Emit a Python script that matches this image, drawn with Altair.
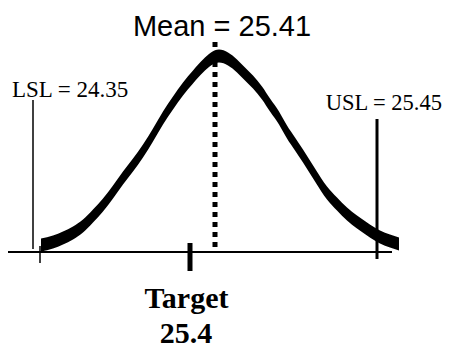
import altair as alt
import pandas as pd

# Curve (x: position relative to the mean line, y: height above baseline)
curve_x = [-174, -162, -152, -142, -132, -122, -112, -102, -92, -82, -72, -62, -52, -42, -32, -22, -12, -4,
           4, 13, 22, 30, 38, 47, 55, 64, 72, 80, 88, 100, 112, 122, 132, 142, 152, 165, 175, 184]
curve_y = [7, 10, 14, 19, 26, 36, 47, 60, 74, 87, 101, 117, 134, 149, 163, 175, 186, 193,
           196, 193, 186, 178, 170, 159, 147, 134, 120, 108, 96, 77, 59, 48, 38, 30, 23, 15, 11, 8]

# Reference lines
lsl_x, lsl_top, lsl_bottom = -182, 152, 3
usl_x, usl_top, usl_bottom = 162, 133, -7
mean_x, mean_top = 0, 210
target_x, target_top, target_bottom = -25, 9, -19
lsl_tick_x, lsl_tick_top, lsl_tick_bottom = -175, 6, -11
axis_left, axis_right = -207, 177

# Labels
mean_label = "Mean = 25.41"
lsl_label = "LSL = 24.35"
usl_label = "USL = 25.45"
target_label = "Target"
target_value = "25.4"

xs = alt.Scale(domain=[-207, 228])
ys = alt.Scale(domain=[-93, 244])


def X(f):
    return alt.X(f, scale=xs, axis=None)


def Y(f):
    return alt.Y(f, scale=ys, axis=None)


curve = pd.DataFrame({"x": curve_x, "y": curve_y})

band = alt.Chart(curve).transform_calculate(
    lo="datum.y - 6.5", hi="datum.y + 6.5"
).mark_area(color="black", interpolate="monotone").encode(
    x=X("x:Q"), y=Y("hi:Q"), y2="lo:Q"
)

axis_df = pd.DataFrame({"x": [axis_left], "x2": [axis_right], "y": [0]})
axis_line = alt.Chart(axis_df).mark_rule(color="black", strokeWidth=2).encode(
    x=X("x:Q"), x2="x2:Q", y=Y("y:Q")
)


def vrule(x, top, bottom, width, dash=None):
    df = pd.DataFrame({"x": [x], "y": [top], "y2": [bottom]})
    kw = dict(color="black", strokeWidth=width, strokeCap="butt")
    if dash is not None:
        kw["strokeDash"] = dash
    return alt.Chart(df).mark_rule(**kw).encode(x=X("x:Q"), y=Y("y:Q"), y2="y2:Q")


lsl_line = vrule(lsl_x, lsl_top, lsl_bottom, 1.5)
usl_line = vrule(usl_x, usl_top, usl_bottom, 3)
mean_line = vrule(mean_x, mean_top, 0, 5, [5, 5])
target_tick = vrule(target_x, target_top, target_bottom, 5)
lsl_tick = vrule(lsl_tick_x, lsl_tick_top, lsl_tick_bottom, 1.5)


def label(text, x, y, font, size, align, weight="normal"):
    df = pd.DataFrame({"x": [x], "y": [y], "t": [text]})
    return alt.Chart(df).mark_text(
        font=font, fontSize=size, align=align, baseline="alphabetic",
        fontWeight=weight, color="black"
    ).encode(x=X("x:Q"), y=Y("y:Q"), text="t:N")


texts = [
    label(mean_label, 7, 216, "Liberation Sans", 29, "center"),
    label(lsl_label, -203, 155, "Liberation Serif", 23, "left"),
    label(usl_label, 227, 142, "Liberation Serif", 22.5, "right"),
    label(target_label, -28.5, -56, "Liberation Serif", 30, "center", "bold"),
    label(target_value, -29, -91, "Liberation Serif", 30, "center", "bold"),
]

chart = alt.layer(
    axis_line, lsl_line, usl_line, band, mean_line, target_tick, lsl_tick, *texts
).properties(
    width=435, height=337, padding=0, autosize=alt.AutoSizeParams(type="none")
).configure_view(stroke=None)

chart.save("out.html", embed_options={"renderer": "svg", "actions": False})
